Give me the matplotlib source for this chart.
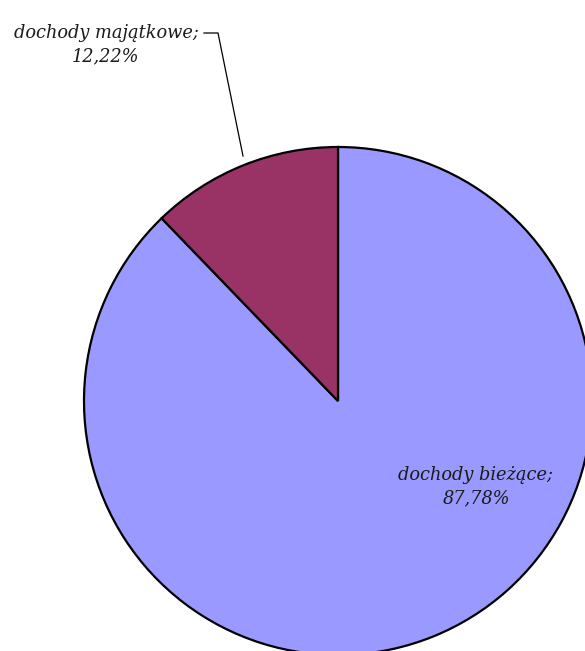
import matplotlib
matplotlib.use("Agg")
import matplotlib.pyplot as plt

categories = ["dochody bieżące", "dochody majątkowe"]
values = [87.78, 12.22]
labels = ["87,78%", "12,22%"]
colors = ["#9999FF", "#993366"]

W, H = 585, 651
fig = plt.figure(figsize=(W / 100, H / 100), dpi=100)
ax = fig.add_axes([0, 0, 1, 1])

cx, cy, r = 338, H - 401, 254
wedges, _ = ax.pie(values, colors=colors, startangle=90, counterclock=False,
                   center=(cx, cy), radius=r, frame=True,
                   wedgeprops=dict(edgecolor="black", linewidth=1.6))
ax.set_xlim(0, W)
ax.set_ylim(0, H)
ax.axis("off")

font = dict(family="DejaVu Serif", style="italic", size=12.8, color="#1a1a1a")

ax.text(476, H - 487, f"{categories[0]};\n{labels[0]}", ha="center", va="center",
        linespacing=1.4, **font)

ax.text(106, H - 45, f"{categories[1]};\n{labels[1]}", ha="center", va="center",
        linespacing=1.4, **font)
ax.plot([204, 218, 243], [H - 33, H - 33, H - 156], color="black", linewidth=0.9)

fig.savefig("out.png", dpi=100)
